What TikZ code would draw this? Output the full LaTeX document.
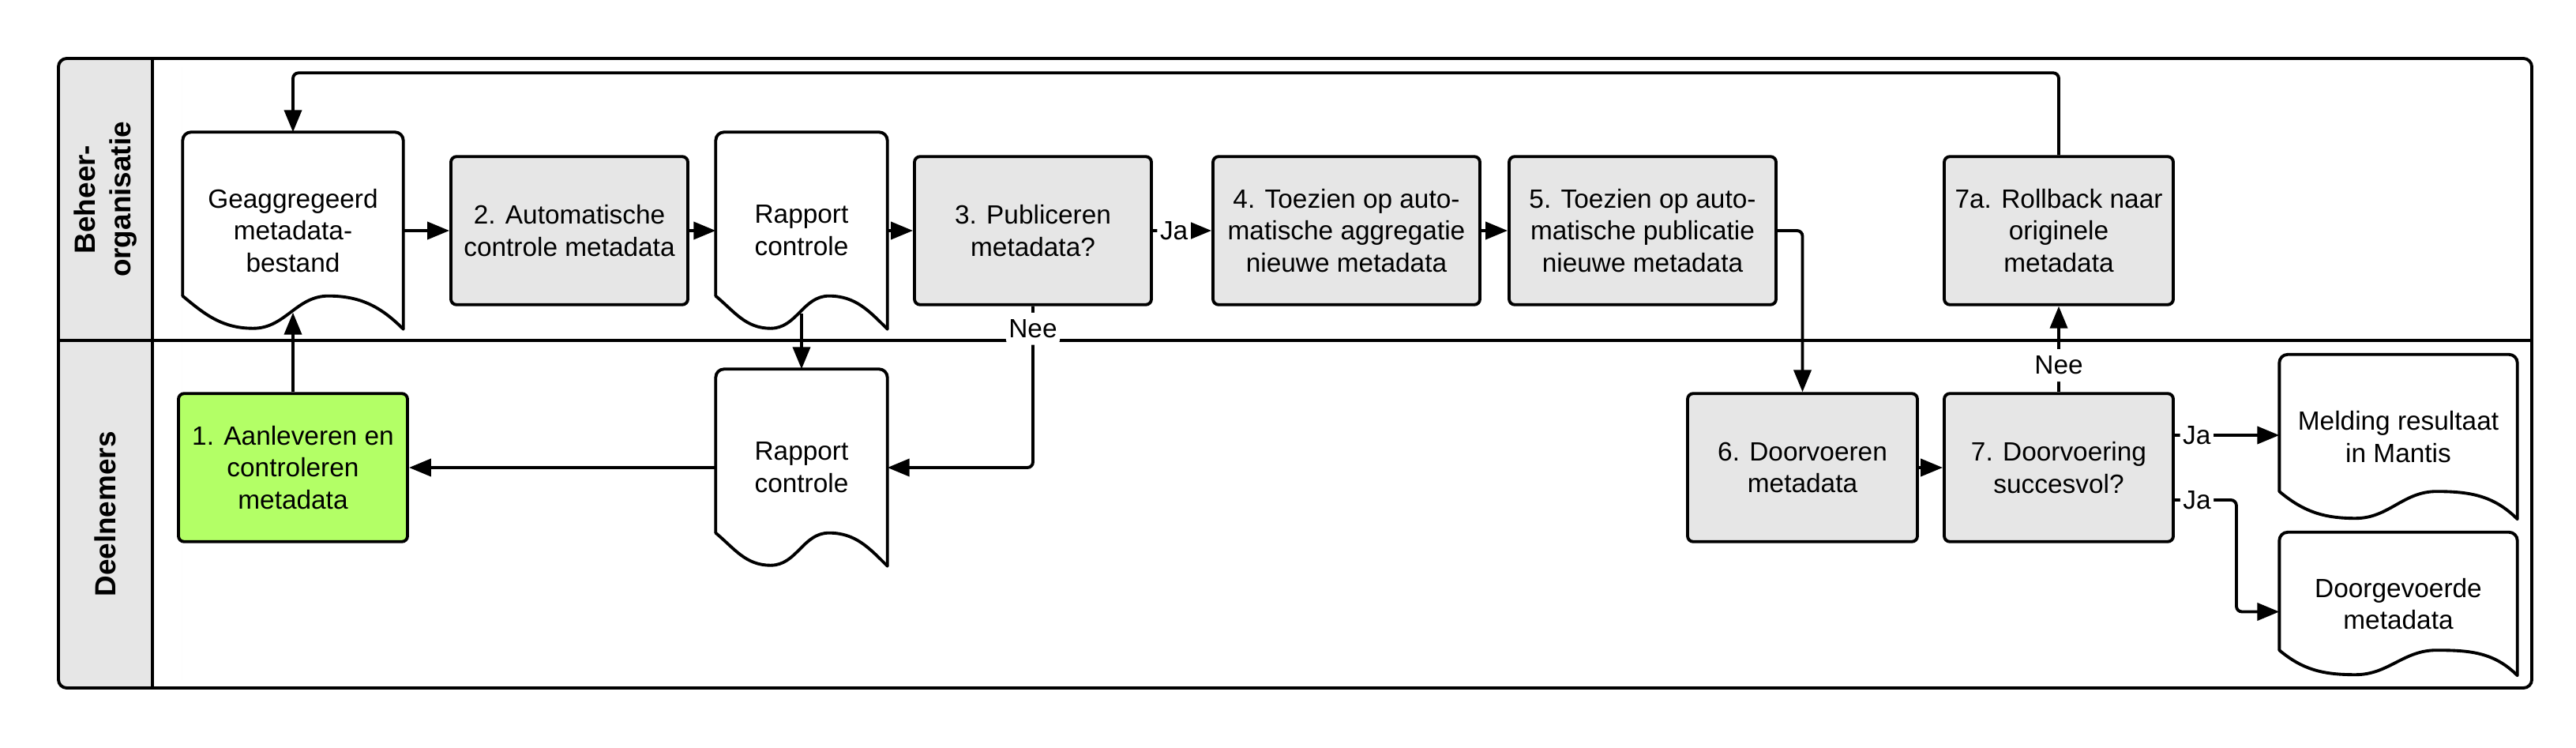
\documentclass[tikz,border=0pt]{standalone}
\usepackage{fontspec}
\setmainfont{Liberation Sans}
\usetikzlibrary{arrows.meta,calc}
\definecolor{lanegray}{HTML}{E6E6E6}
\definecolor{stepgreen}{HTML}{B3FF66}
\tikzset{
  >={Triangle[length=0.28cm, width=0.22cm]},
  every node/.style={font=\fontsize{9.5}{11.6}\selectfont},
  task/.style={draw, line width=1.1pt, fill=lanegray, rounded corners=2pt, align=center, minimum height=1.875cm, inner sep=2pt},
  doc/.style={align=center, inner sep=0pt},
  docline/.style={line width=1.1pt, line cap=round, line join=round},
  flow/.style={line width=1.1pt, ->, rounded corners=2pt},
  lbl/.style={fill=white, inner xsep=1pt, inner ysep=2.5pt},
  lanetitle/.style={font=\fontsize{10.5}{13}\selectfont\bfseries, align=center, rotate=90},
}
% document outline: #1 node, #2 wave height
\newcommand{\docframe}[2]{%
  \draw[docline, rounded corners=3pt] ($(#1.south west)+(0, #2)$) -- (#1.north west) -- (#1.north east) -- (#1.south east);
  \draw[docline] ($(#1.south west)+(0, #2)$) to[out=-40, in=180] ($(#1.south west)!0.32!(#1.south east)+(0, 0.01)$)
    to[out=0, in=180] ($(#1.south west)!0.66!(#1.south east)+(0, #2)$) to[out=0, in=135] (#1.south east);
}
\begin{document}
\begin{tikzpicture}
    \useasboundingbox (0, 0) rectangle (32.62, -9.47);
    % lanes
    \fill[lanegray, rounded corners=3pt] (0.74, -0.74) rectangle (2.3, -8.71);
    \fill[white] (1.93, -0.74) rectangle (2.3, -8.71);
    \draw[line width=1.1pt, rounded corners=3pt] (0.74, -0.74) rectangle (32.06, -8.71);
    \draw[line width=1.1pt] (1.93, -0.74) -- (1.93, -8.71);
    \draw[line width=1.1pt] (0.74, -4.31) -- (32.06, -4.31);
    \node[lanetitle] (beheer) at (1.335, -2.525) {Beheer-\\organisatie};
    \node[lanetitle] (deelnemers) at (1.335, -6.51) {Deelnemers};

    % beheerorganisatie
    \node[doc, minimum width=2.78cm, minimum height=2.48cm] (geag) at (3.71, -2.92) {Geaggregeerd\\metadata-\\bestand};
    \node[task, minimum width=3cm] (box2) at (7.21, -2.92) {2. Automatische\\controle metadata};
    \node[doc, minimum width=2.16cm, minimum height=2.48cm] (rap1) at (10.15, -2.92) {Rapport\\controle};
    \node[task, minimum width=3cm] (box3) at (13.08, -2.92) {3. Publiceren\\metadata?};
    \node[task, minimum width=3.38cm] (box4) at (17.05, -2.92) {4. Toezien op auto-\\matische aggregatie\\nieuwe metadata};
    \node[task, minimum width=3.38cm] (box5) at (20.80, -2.92) {5. Toezien op auto-\\matische publicatie\\nieuwe metadata};
    \node[task, minimum width=2.9cm] (box7a) at (26.07, -2.92) {7a. Rollback naar\\originele\\metadata};

    % deelnemers
    \node[task, fill=stepgreen, minimum width=2.9cm] (box1) at (3.71, -5.92) {1. Aanleveren en\\controleren\\metadata};
    \node[doc, minimum width=2.16cm, minimum height=2.48cm] (rap2) at (10.15, -5.92) {Rapport\\controle};
    \node[task, minimum width=2.91cm] (box6) at (22.825, -5.92) {6. Doorvoeren\\metadata};
    \node[task, minimum width=2.9cm] (box7) at (26.07, -5.92) {7. Doorvoering\\succesvol?};
    \node[doc, minimum width=3cm, minimum height=2.07cm] (mel) at (30.37, -5.53) {Melding resultaat\\in Mantis};
    \node[doc, minimum width=3cm, minimum height=1.8cm] (doorg) at (30.37, -7.645) {Doorgevoerde\\metadata};

    \docframe{geag}{0.42}
    \docframe{rap1}{0.42}
    \docframe{rap2}{0.42}
    \docframe{mel}{0.35}
    \docframe{doorg}{0.32}

    \coordinate (j1) at ([yshift=0.41cm]box7.east);
    \coordinate (j2) at ([yshift=-0.41cm]box7.east);

    % connectors
    \draw[flow] (box7a.north) -- ++(0, 1.04) -| (geag.north);
    \draw[flow] (geag.east) -- (box2.west);
    \draw[flow] (box2.east) -- (rap1.west);
    \draw[flow] (rap1.east) -- (box3.west);
    \draw[flow] (box3.east) -- node[lbl, pos=0.36] {Ja} (box4.west);
    \draw[flow] (box4.east) -- (box5.west);
    \draw[flow] (box5.east) -| (box6.north);
    \draw[flow] (box1.north) -- ([yshift=0.21cm]geag.south);
    \draw[flow] ([yshift=0.2cm]rap1.south) -- (rap2.north);
    \draw[flow] (box3.south) |- node[lbl, pos=0.07] {Nee} (rap2.east);
    \draw[flow] (rap2.west) -- (box1.east);
    \draw[flow] (box6.east) -- (box7.west);
    \draw[flow] (box7.north) -- node[lbl, pos=0.31] {Nee} (box7a.south);
    \draw[flow] (j1) -- node[lbl, pos=0.21] {Ja} (j1 -| mel.west);
    \draw[flow] (j2) -- node[lbl, pos=0.36] {Ja} ++(0.78, 0) |- ([yshift=-0.1cm]doorg.west);
\end{tikzpicture}
\end{document}
